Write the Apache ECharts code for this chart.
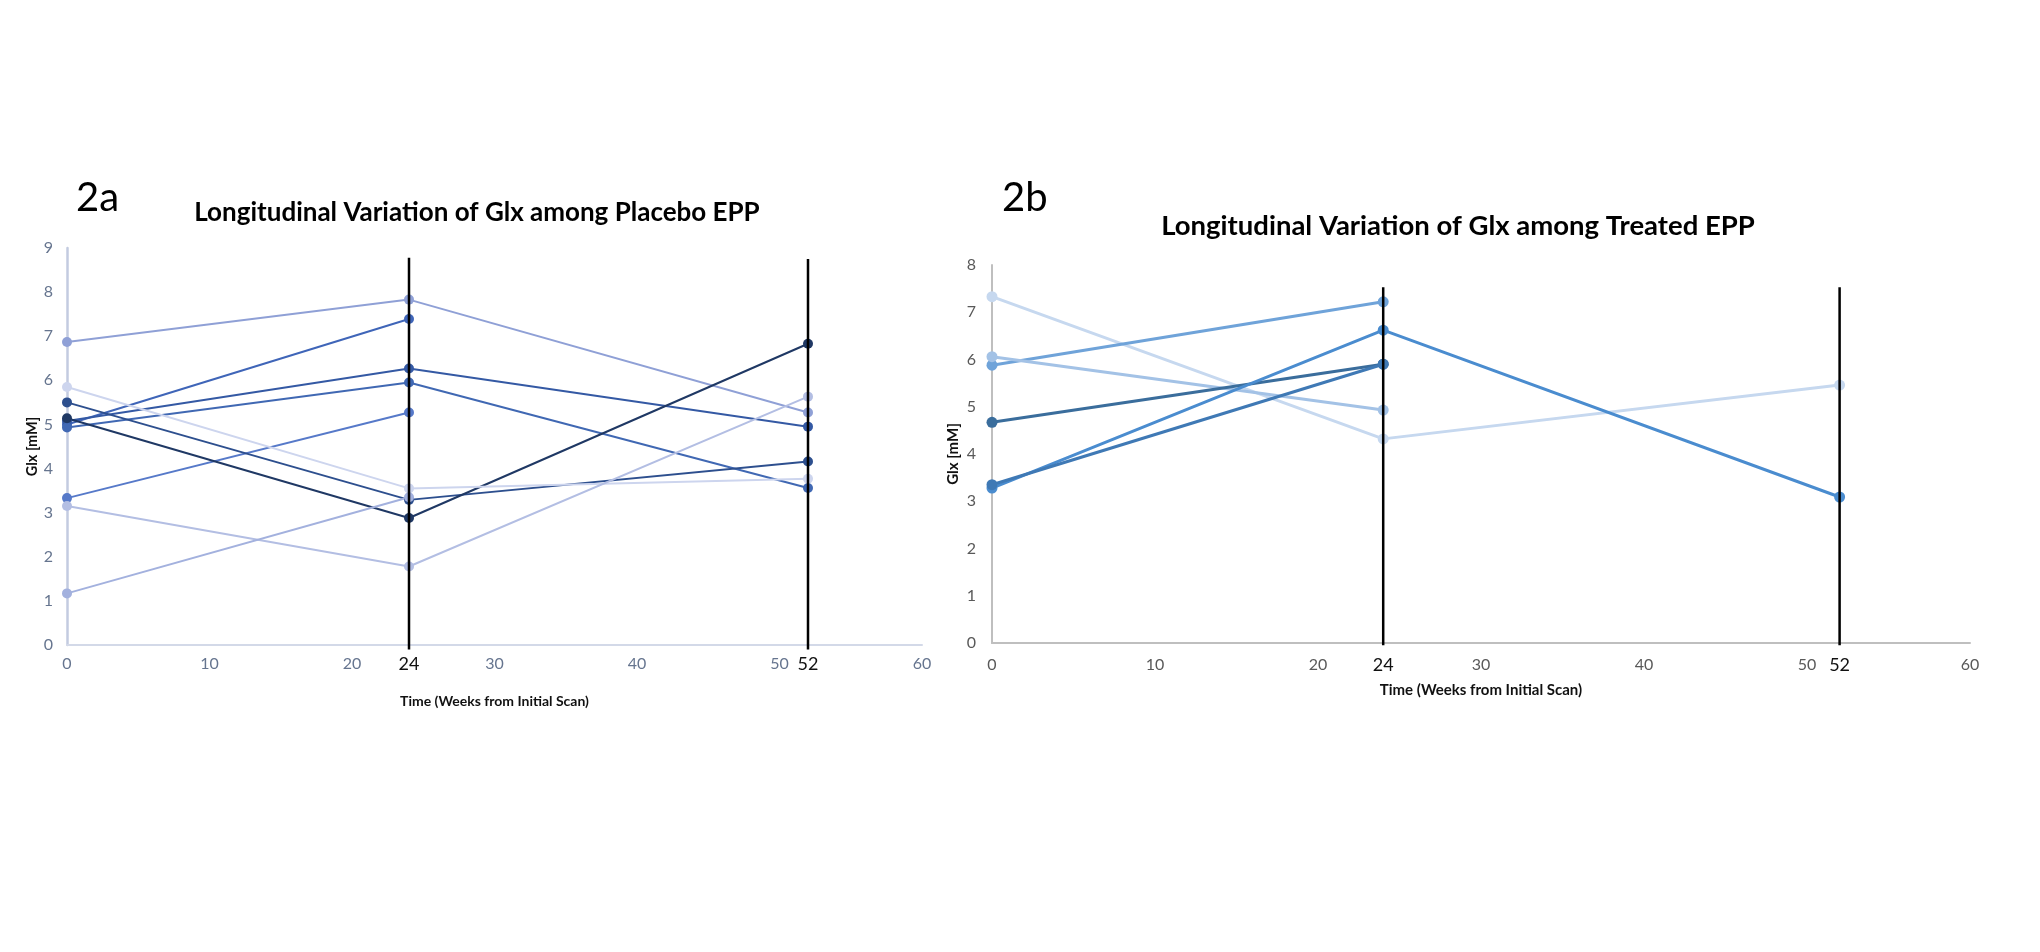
<!DOCTYPE html>
<html>
<head>
<meta charset="utf-8">
<script src="https://cdn.jsdelivr.net/npm/echarts@6/dist/echarts.min.js"></script>
<style>
html,body{margin:0;padding:0;background:#fff;}
#chart{width:2040px;height:952px;}
</style>
</head>
<body>
<div id="chart"></div>
<script>
// ---------- data ----------
const weeks = [0, 24, 52];
const xTicks = [0, 10, 20, 30, 40, 50, 60];
const highlightWeeks = [24, 52];

// Placebo EPP (Glx, mM) at weeks 0, 24, 52 (null = no scan)
const placeboS1 = [6.87, 7.83, 5.27];
const placeboS2 = [5.00, 7.39, null];
const placeboS3 = [5.08, 6.27, 4.95];
const placeboS4 = [4.93, 5.95, 3.56];
const placeboS5 = [3.33, 5.27, null];
const placeboS6 = [5.50, 3.29, 4.16];
const placeboS7 = [5.14, 2.88, 6.83];
const placeboS8 = [5.85, 3.55, 3.77];
const placeboS9 = [3.15, 1.78, 5.63];
const placeboS10 = [1.17, 3.35, null];

// Treated EPP
const treatedA = [7.33, 4.32, 5.46];
const treatedB = [5.88, 7.22, null];
const treatedC = [6.06, 4.93, null];
const treatedD = [4.67, 5.90, null];
const treatedE = [3.28, 6.62, 3.09];
const treatedF = [3.35, 5.90, null];

// vertical reference bars at weeks 24 and 52 (heights in mM)
const placeboBarTop = [8.78, 8.75];
const treatedBarTop = [7.53, 7.53];

// ---------- styles ----------
const placeboColors = ['#8fa0d6','#3f65b8','#3459a4','#4068b3','#5679c9','#2d4f8e','#1f3864','#cdd5ee','#b3bee3','#a3b1de'];
const treatedColors = ['#c6d8ef','#6fa3d9','#a3c2e6','#3a6d9c','#4a8ccf','#3f79b5'];
const placeboData = [placeboS1,placeboS2,placeboS3,placeboS4,placeboS5,placeboS6,placeboS7,placeboS8,placeboS9,placeboS10];
const treatedData = [treatedA,treatedB,treatedC,treatedD,treatedE,treatedF];

const FONT = 'Lato, "Open Sans", sans-serif';

function toPairs(vals){
  const out = [];
  vals.forEach((v,i)=>{ if(v!==null) out.push([weeks[i], v]); });
  return out;
}

const series = [];
placeboData.forEach((vals,i)=>{
  series.push({
    type:'line', xAxisIndex:0, yAxisIndex:0, data: toPairs(vals),
    symbol:'circle', symbolSize:10,
    lineStyle:{width:2, color:placeboColors[i]},
    itemStyle:{color:placeboColors[i]},
    z: 3, animation:false
  });
});
treatedData.forEach((vals,i)=>{
  series.push({
    type:'line', xAxisIndex:2, yAxisIndex:1, data: toPairs(vals),
    symbol:'circle', symbolSize:11,
    lineStyle:{width:3, color:treatedColors[i]},
    itemStyle:{color:treatedColors[i]},
    z: 3, animation:false
  });
});
highlightWeeks.forEach((w,i)=>{
  series.push({
    type:'line', xAxisIndex:0, yAxisIndex:0, data:[[w,-0.1],[w,placeboBarTop[i]]],
    symbol:'none', clip:false, lineStyle:{width:2.5,color:'#000'}, z:5, animation:false
  });
  series.push({
    type:'line', xAxisIndex:2, yAxisIndex:1, data:[[w,-0.05],[w,treatedBarTop[i]]],
    symbol:'none', clip:false, lineStyle:{width:2.5,color:'#000'}, z:5, animation:false
  });
});

const chart = echarts.init(document.getElementById('chart'), null, {renderer:'canvas'});
chart.setOption({
  backgroundColor:'#fff',
  animation:false,
  textStyle:{fontFamily:FONT},
  grid:[
    {left:67, top:248, width:855, height:397},
    {left:992, top:265, width:978, height:378}
  ],
  xAxis:[
    {type:'value', gridIndex:0, min:0, max:60, interval:10, position:'bottom',
     name:'Time (Weeks from Initial Scan)', nameLocation:'middle', nameGap:49,
     nameTextStyle:{fontFamily:FONT, fontWeight:'bold', fontSize:14, color:'#111'},
     axisLine:{lineStyle:{color:'#d3d9e8', width:2}}, axisTick:{show:false}, splitLine:{show:false},
     axisLabel:{color:'#66758f', fontSize:16, margin:11, fontFamily:FONT}},
    {type:'value', gridIndex:0, min:0, max:60, position:'bottom',
     axisLine:{show:false}, axisTick:{show:false}, splitLine:{show:false},
     axisLabel:{customValues:highlightWeeks, color:'#111', fontSize:18, margin:10, fontFamily:FONT}},
    {type:'value', gridIndex:1, min:0, max:60, interval:10, position:'bottom',
     name:'Time (Weeks from Initial Scan)', nameLocation:'middle', nameGap:40,
     nameTextStyle:{fontFamily:FONT, fontWeight:'bold', fontSize:15, color:'#111'},
     axisLine:{lineStyle:{color:'#bfbfbf', width:2}}, axisTick:{show:false}, splitLine:{show:false},
     axisLabel:{color:'#595959', fontSize:16, margin:14, fontFamily:FONT}},
    {type:'value', gridIndex:1, min:0, max:60, position:'bottom',
     axisLine:{show:false}, axisTick:{show:false}, splitLine:{show:false},
     axisLabel:{customValues:highlightWeeks, color:'#111', fontSize:18, margin:13, fontFamily:FONT}}
  ],
  yAxis:[
    {type:'value', gridIndex:0, min:0, max:9, interval:1,
     name:'Glx [mM]', nameLocation:'middle', nameGap:27, nameRotate:90,
     nameTextStyle:{fontFamily:FONT, fontWeight:'bold', fontSize:14.5, color:'#111'},
     axisLine:{show:true, lineStyle:{color:'#c3cbe0', width:2.5}}, axisTick:{show:false}, splitLine:{show:false},
     axisLabel:{color:'#66758f', fontSize:16, margin:14, fontFamily:FONT}},
    {type:'value', gridIndex:1, min:0, max:8, interval:1,
     name:'Glx [mM]', nameLocation:'middle', nameGap:31, nameRotate:90,
     nameTextStyle:{fontFamily:FONT, fontWeight:'bold', fontSize:15, color:'#111'},
     axisLine:{show:true, lineStyle:{color:'#bfbfbf', width:2}}, axisTick:{show:false}, splitLine:{show:false},
     axisLabel:{color:'#595959', fontSize:16, margin:16, fontFamily:FONT}}
  ],
  graphic:[
    {type:'text', left:76, top:178, style:{text:'2a', font:'40px '+FONT, fill:'#000'}},
    {type:'text', left:1002, top:178, style:{text:'2b', font:'40px '+FONT, fill:'#000'}},
    {type:'text', x:477, y:213, style:{text:'Longitudinal Variation of Glx among Placebo EPP', font:'bold 26px '+FONT, fill:'#000', textAlign:'center', textVerticalAlign:'middle'}},
    {type:'text', x:1458, y:226, style:{text:'Longitudinal Variation of Glx among Treated EPP', font:'bold 27.5px '+FONT, fill:'#000', textAlign:'center', textVerticalAlign:'middle'}}
  ],
  series: series
});
</script>
</body>
</html>
